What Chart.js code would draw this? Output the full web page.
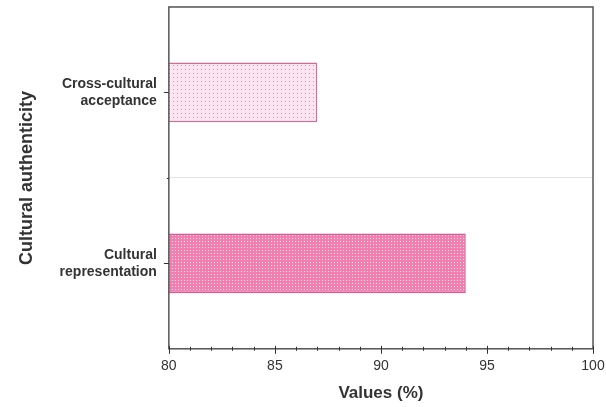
<!DOCTYPE html>
<html lang="en">
<head>
  <meta charset="UTF-8" />
  <title>Cultural authenticity</title>
  <script src="https://cdn.jsdelivr.net/npm/chart.js"></script>
  <style>
    body { margin: 0; background: #fff; }
    #wrap { width: 606px; height: 407px; }
  </style>
</head>
<body>
  <div id="wrap"><canvas id="barChart"></canvas></div>

  <script>
    const categories = [['Cross-cultural', 'acceptance'], ['Cultural', 'representation']];
    const values = [87, 94];
    const xMin = 80;
    const xMax = 100;

    // dotted fills like the original hatch patterns
    function makePattern(bg, dot, size) {
      const c = document.createElement('canvas');
      c.width = size;
      c.height = size;
      const g = c.getContext('2d');
      g.fillStyle = bg;
      g.fillRect(0, 0, size, size);
      g.fillStyle = dot;
      g.fillRect(1, 1, 1, 1);
      return g.createPattern(c, 'repeat');
    }
    const ctxMain = document.getElementById('barChart').getContext('2d');
    const fills = [
      makePattern('#fde6f0', '#e38db2', 4),
      makePattern('#f27fb0', '#fde3ee', 3)
    ];

    const frameAndTicks = {
      id: 'frameAndTicks',
      afterDraw(chart) {
        const { ctx, chartArea: a, scales } = chart;
        ctx.save();
        ctx.strokeStyle = '#555';
        ctx.lineWidth = 1.5;
        ctx.strokeRect(a.left, a.top, a.right - a.left, a.bottom - a.top);
        ctx.strokeStyle = '#333';
        ctx.lineWidth = 1;
        // x ticks, major every 5, minor every 1
        for (let v = xMin; v <= xMax; v++) {
          const px = Math.round(scales.x.getPixelForValue(v)) + 0.5;
          const major = v % 5 === 0;
          ctx.beginPath();
          ctx.moveTo(px, a.bottom - (major ? 3 : 2));
          ctx.lineTo(px, a.bottom + (major ? 5 : 2));
          ctx.stroke();
        }
        // y ticks at categories and boundary
        categories.forEach((c, i) => {
          const py = Math.round(scales.y.getPixelForValue(i)) + 0.5;
          ctx.beginPath();
          ctx.moveTo(a.left - 5, py);
          ctx.lineTo(a.left, py);
          ctx.stroke();
        });
        const mid = Math.round((scales.y.getPixelForValue(0) + scales.y.getPixelForValue(1)) / 2) + 0.5;
        ctx.beginPath();
        ctx.moveTo(a.left - 2, mid);
        ctx.lineTo(a.left, mid);
        ctx.stroke();
        ctx.restore();
      }
    };

    new Chart(ctxMain, {
      type: 'bar',
      data: {
        labels: categories,
        datasets: [{
          data: values,
          backgroundColor: fills,
          borderColor: ['#d36a97', '#d65a90'],
          borderWidth: 1.5,
          borderSkipped: false,
          categoryPercentage: 1,
          barPercentage: 0.35
        }]
      },
      options: {
        indexAxis: 'y',
        responsive: true,
        maintainAspectRatio: false,
        animation: false,
        layout: { padding: { top: 7, right: 13, left: 16, bottom: 3 } },
        plugins: {
          legend: { display: false },
          tooltip: { enabled: false }
        },
        scales: {
          x: {
            min: xMin,
            max: xMax,
            grid: { display: false, drawTicks: false },
            border: { display: false },
            afterFit(scale) { scale.paddingLeft = 0; scale.paddingRight = 0; },
            ticks: {
              stepSize: 1,
              autoSkip: false,
              maxRotation: 0,
              padding: 9,
              color: '#333',
              font: { family: 'Liberation Sans', size: 14 },
              callback: v => (v % 5 === 0 ? v : '')
            },
            title: {
              display: true,
              text: 'Values (%)',
              color: '#333',
              padding: { top: 0, bottom: 0 },
              font: { family: 'Liberation Sans', size: 17, weight: 'bold' }
            }
          },
          y: {
            grid: { offset: true, color: '#e4e4e4', drawTicks: false },
            border: { display: false },
            afterFit(scale) { scale.paddingTop = 0; scale.paddingBottom = 0; },
            ticks: {
              padding: 12,
              color: '#333',
              font: { family: 'Liberation Sans', size: 14, weight: 'bold' }
            },
            title: {
              display: true,
              text: 'Cultural authenticity',
              color: '#333',
              padding: { top: 0, bottom: 10 },
              font: { family: 'Liberation Sans', size: 18, weight: 'bold' }
            }
          }
        }
      },
      plugins: [frameAndTicks]
    });
  </script>
</body>
</html>
